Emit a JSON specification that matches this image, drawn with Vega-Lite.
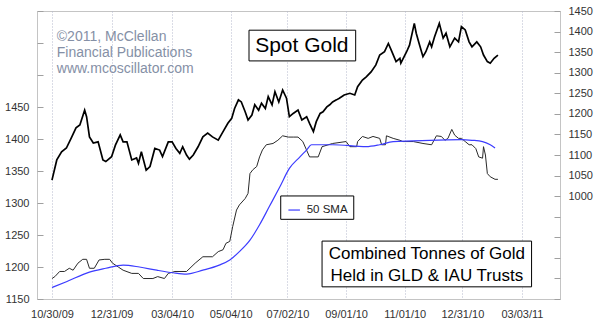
{
  "$schema": "https://vega.github.io/schema/vega-lite/v6.json",
  "width": 523,
  "height": 288,
  "autosize": {"type": "none"},
  "padding": {"left": 37, "top": 11, "right": 40, "bottom": 25},
  "background": "white",
  "config": {
    "view": {"stroke": "#c4c4c4", "strokeWidth": 1, "fill": "white"},
    "font": "Liberation Sans",
    "axis": {"labelFont": "Liberation Sans", "labelFontSize": 11, "labelColor": "#333333", "domain": false}
  },
  "datasets": {
    "gold": [
      {"date": "2009-10-30", "price": 1039}, {"date": "2009-11-04", "price": 1088}, {"date": "2009-11-09", "price": 1108},
      {"date": "2009-11-14", "price": 1117}, {"date": "2009-11-19", "price": 1141}, {"date": "2009-11-24", "price": 1166},
      {"date": "2009-11-28", "price": 1173}, {"date": "2009-12-03", "price": 1209}, {"date": "2009-12-05", "price": 1193},
      {"date": "2009-12-08", "price": 1144}, {"date": "2009-12-12", "price": 1129}, {"date": "2009-12-17", "price": 1132},
      {"date": "2009-12-22", "price": 1088}, {"date": "2009-12-25", "price": 1084}, {"date": "2009-12-31", "price": 1096},
      {"date": "2010-01-04", "price": 1124}, {"date": "2010-01-09", "price": 1149}, {"date": "2010-01-12", "price": 1132},
      {"date": "2010-01-16", "price": 1132}, {"date": "2010-01-21", "price": 1088}, {"date": "2010-01-26", "price": 1093},
      {"date": "2010-01-28", "price": 1080}, {"date": "2010-01-31", "price": 1108}, {"date": "2010-02-05", "price": 1063},
      {"date": "2010-02-09", "price": 1072}, {"date": "2010-02-14", "price": 1116}, {"date": "2010-02-19", "price": 1112},
      {"date": "2010-02-22", "price": 1096}, {"date": "2010-02-28", "price": 1132}, {"date": "2010-03-04", "price": 1132},
      {"date": "2010-03-08", "price": 1116}, {"date": "2010-03-12", "price": 1104}, {"date": "2010-03-15", "price": 1120},
      {"date": "2010-03-19", "price": 1100}, {"date": "2010-03-22", "price": 1090}, {"date": "2010-03-26", "price": 1100},
      {"date": "2010-03-31", "price": 1120}, {"date": "2010-04-05", "price": 1144}, {"date": "2010-04-10", "price": 1153},
      {"date": "2010-04-15", "price": 1144}, {"date": "2010-04-21", "price": 1136}, {"date": "2010-04-26", "price": 1157},
      {"date": "2010-05-01", "price": 1177}, {"date": "2010-05-05", "price": 1189}, {"date": "2010-05-08", "price": 1213},
      {"date": "2010-05-12", "price": 1234}, {"date": "2010-05-15", "price": 1229}, {"date": "2010-05-19", "price": 1205},
      {"date": "2010-05-22", "price": 1185}, {"date": "2010-05-26", "price": 1197}, {"date": "2010-05-29", "price": 1222},
      {"date": "2010-06-02", "price": 1209}, {"date": "2010-06-05", "price": 1226}, {"date": "2010-06-09", "price": 1213},
      {"date": "2010-06-12", "price": 1242}, {"date": "2010-06-16", "price": 1222}, {"date": "2010-06-19", "price": 1254},
      {"date": "2010-06-23", "price": 1229}, {"date": "2010-06-27", "price": 1258}, {"date": "2010-07-01", "price": 1238},
      {"date": "2010-07-04", "price": 1193}, {"date": "2010-07-08", "price": 1201}, {"date": "2010-07-13", "price": 1209},
      {"date": "2010-07-17", "price": 1185}, {"date": "2010-07-22", "price": 1193}, {"date": "2010-07-25", "price": 1177},
      {"date": "2010-07-29", "price": 1157}, {"date": "2010-08-01", "price": 1181}, {"date": "2010-08-05", "price": 1201},
      {"date": "2010-08-08", "price": 1205}, {"date": "2010-08-12", "price": 1217}, {"date": "2010-08-15", "price": 1222},
      {"date": "2010-08-18", "price": 1229}, {"date": "2010-08-22", "price": 1234}, {"date": "2010-08-25", "price": 1238},
      {"date": "2010-08-30", "price": 1246}, {"date": "2010-09-05", "price": 1250}, {"date": "2010-09-10", "price": 1246},
      {"date": "2010-09-13", "price": 1266}, {"date": "2010-09-18", "price": 1282}, {"date": "2010-09-22", "price": 1290},
      {"date": "2010-09-27", "price": 1302}, {"date": "2010-10-02", "price": 1319}, {"date": "2010-10-06", "price": 1343},
      {"date": "2010-10-11", "price": 1351}, {"date": "2010-10-15", "price": 1371}, {"date": "2010-10-18", "price": 1355},
      {"date": "2010-10-23", "price": 1327}, {"date": "2010-10-27", "price": 1335}, {"date": "2010-10-28", "price": 1323},
      {"date": "2010-11-03", "price": 1351}, {"date": "2010-11-06", "price": 1367}, {"date": "2010-11-11", "price": 1420},
      {"date": "2010-11-13", "price": 1396}, {"date": "2010-11-16", "price": 1371}, {"date": "2010-11-20", "price": 1339},
      {"date": "2010-11-23", "price": 1351}, {"date": "2010-11-27", "price": 1375}, {"date": "2010-11-29", "price": 1363},
      {"date": "2010-12-02", "price": 1387}, {"date": "2010-12-07", "price": 1420}, {"date": "2010-12-11", "price": 1384},
      {"date": "2010-12-14", "price": 1396}, {"date": "2010-12-18", "price": 1363}, {"date": "2010-12-23", "price": 1384},
      {"date": "2010-12-27", "price": 1375}, {"date": "2010-12-30", "price": 1412}, {"date": "2011-01-03", "price": 1404},
      {"date": "2011-01-07", "price": 1375}, {"date": "2011-01-10", "price": 1363}, {"date": "2011-01-15", "price": 1375},
      {"date": "2011-01-19", "price": 1363}, {"date": "2011-01-22", "price": 1343}, {"date": "2011-01-26", "price": 1327},
      {"date": "2011-01-29", "price": 1323}, {"date": "2011-02-02", "price": 1335}, {"date": "2011-02-06", "price": 1343}
    ],
    "gld": [
      {"date": "2009-10-30", "v": 1182}, {"date": "2009-11-02", "v": 1185}, {"date": "2009-11-07", "v": 1193},
      {"date": "2009-11-12", "v": 1193}, {"date": "2009-11-17", "v": 1198}, {"date": "2009-11-21", "v": 1195},
      {"date": "2009-11-26", "v": 1206}, {"date": "2009-12-01", "v": 1212}, {"date": "2009-12-05", "v": 1212},
      {"date": "2009-12-08", "v": 1198}, {"date": "2009-12-13", "v": 1198}, {"date": "2009-12-18", "v": 1211},
      {"date": "2009-12-24", "v": 1212}, {"date": "2009-12-29", "v": 1212}, {"date": "2010-01-01", "v": 1206},
      {"date": "2010-01-07", "v": 1200}, {"date": "2010-01-12", "v": 1195}, {"date": "2010-01-21", "v": 1190},
      {"date": "2010-01-28", "v": 1190}, {"date": "2010-02-02", "v": 1182}, {"date": "2010-02-12", "v": 1182},
      {"date": "2010-02-17", "v": 1185}, {"date": "2010-02-24", "v": 1182}, {"date": "2010-02-28", "v": 1190},
      {"date": "2010-03-07", "v": 1193}, {"date": "2010-03-19", "v": 1193}, {"date": "2010-03-28", "v": 1206},
      {"date": "2010-04-05", "v": 1216}, {"date": "2010-04-15", "v": 1216}, {"date": "2010-04-21", "v": 1224},
      {"date": "2010-04-26", "v": 1227}, {"date": "2010-04-29", "v": 1237}, {"date": "2010-05-03", "v": 1240},
      {"date": "2010-05-06", "v": 1263}, {"date": "2010-05-10", "v": 1289}, {"date": "2010-05-13", "v": 1297},
      {"date": "2010-05-19", "v": 1307}, {"date": "2010-05-22", "v": 1315}, {"date": "2010-05-24", "v": 1346},
      {"date": "2010-05-27", "v": 1352}, {"date": "2010-05-31", "v": 1357}, {"date": "2010-06-03", "v": 1372},
      {"date": "2010-06-06", "v": 1383}, {"date": "2010-06-10", "v": 1391}, {"date": "2010-06-17", "v": 1393},
      {"date": "2010-06-22", "v": 1398}, {"date": "2010-06-27", "v": 1405}, {"date": "2010-07-03", "v": 1403},
      {"date": "2010-07-08", "v": 1403}, {"date": "2010-07-13", "v": 1403}, {"date": "2010-07-18", "v": 1396},
      {"date": "2010-07-25", "v": 1372}, {"date": "2010-08-03", "v": 1372}, {"date": "2010-08-07", "v": 1388},
      {"date": "2010-08-18", "v": 1393}, {"date": "2010-09-01", "v": 1396}, {"date": "2010-09-05", "v": 1388},
      {"date": "2010-09-12", "v": 1388}, {"date": "2010-09-13", "v": 1396}, {"date": "2010-09-18", "v": 1404},
      {"date": "2010-09-24", "v": 1401}, {"date": "2010-09-29", "v": 1404}, {"date": "2010-10-06", "v": 1401},
      {"date": "2010-10-08", "v": 1391}, {"date": "2010-10-12", "v": 1391}, {"date": "2010-10-13", "v": 1405},
      {"date": "2010-10-20", "v": 1401}, {"date": "2010-10-27", "v": 1398}, {"date": "2010-10-30", "v": 1396},
      {"date": "2010-11-10", "v": 1396}, {"date": "2010-11-20", "v": 1393}, {"date": "2010-11-29", "v": 1391},
      {"date": "2010-12-04", "v": 1405}, {"date": "2010-12-09", "v": 1404}, {"date": "2010-12-13", "v": 1398},
      {"date": "2010-12-16", "v": 1401}, {"date": "2010-12-20", "v": 1415}, {"date": "2010-12-23", "v": 1406},
      {"date": "2010-12-27", "v": 1401}, {"date": "2010-12-30", "v": 1401}, {"date": "2011-01-03", "v": 1396},
      {"date": "2011-01-07", "v": 1391}, {"date": "2011-01-10", "v": 1391}, {"date": "2011-01-14", "v": 1385},
      {"date": "2011-01-17", "v": 1372}, {"date": "2011-01-21", "v": 1370}, {"date": "2011-01-22", "v": 1388},
      {"date": "2011-01-24", "v": 1375}, {"date": "2011-01-26", "v": 1346}, {"date": "2011-01-29", "v": 1341},
      {"date": "2011-02-03", "v": 1337}, {"date": "2011-02-06", "v": 1337}
    ],
    "sma": [
      {"date": "2009-10-30", "v": 1168}, {"date": "2009-11-14", "v": 1177}, {"date": "2009-12-08", "v": 1192},
      {"date": "2009-12-25", "v": 1198}, {"date": "2010-01-12", "v": 1203}, {"date": "2010-01-29", "v": 1200},
      {"date": "2010-02-16", "v": 1195}, {"date": "2010-03-05", "v": 1191}, {"date": "2010-03-19", "v": 1189},
      {"date": "2010-04-05", "v": 1195}, {"date": "2010-04-22", "v": 1203}, {"date": "2010-05-03", "v": 1211},
      {"date": "2010-05-13", "v": 1224}, {"date": "2010-05-24", "v": 1242}, {"date": "2010-06-03", "v": 1266},
      {"date": "2010-06-13", "v": 1294}, {"date": "2010-06-24", "v": 1325}, {"date": "2010-07-04", "v": 1354},
      {"date": "2010-07-15", "v": 1372}, {"date": "2010-07-22", "v": 1383}, {"date": "2010-07-27", "v": 1391},
      {"date": "2010-08-18", "v": 1391}, {"date": "2010-09-22", "v": 1388}, {"date": "2010-10-06", "v": 1391},
      {"date": "2010-10-20", "v": 1396}, {"date": "2010-11-10", "v": 1397}, {"date": "2010-11-27", "v": 1398},
      {"date": "2010-12-30", "v": 1399}, {"date": "2011-01-10", "v": 1398}, {"date": "2011-01-21", "v": 1396},
      {"date": "2011-01-29", "v": 1391}, {"date": "2011-02-03", "v": 1386}
    ],
    "copyright": [
      {"date": "2009-11-04", "v": 1559, "label": "©2011, McClellan"},
      {"date": "2009-11-04", "v": 1534, "label": "Financial Publications"},
      {"date": "2009-11-04", "v": 1509, "label": "www.mcoscillator.com"}
    ],
    "boxes": [
      {"date": "2010-05-23", "date2": "2010-09-11", "v": 1570, "v2": 1522},
      {"date": "2010-08-07", "date2": "2011-03-13", "v": 1240.5, "v2": 1169},
      {"date": "2010-06-25", "date2": "2010-09-09", "v": 1311, "v2": 1274.5}
    ],
    "bigtitle": [
      {"date": "2010-07-17", "v": 1546, "label": "Spot Gold"}
    ],
    "subtitle": [
      {"date": "2010-11-24", "v": 1220, "label": "Combined Tonnes of Gold"},
      {"date": "2010-11-24", "v": 1186, "label": "Held in GLD & IAU Trusts"}
    ],
    "legendline": [
      {"date": "2010-07-03", "date2": "2010-07-15", "v": 1289}
    ],
    "legendtext": [
      {"date": "2010-07-22", "v": 1289, "label": "50 SMA"}
    ]
  },
  "encoding": {
    "x": {
      "field": "date",
      "type": "temporal",
      "scale": {"type": "utc", "domain": [{"year": 2009, "month": 10, "date": 14, "hours": 10, "utc": true}, {"year": 2011, "month": 4, "date": 11, "hours": 14, "utc": true}]},
      "axis": {
        "values": [
          {"year": 2009, "month": 10, "date": 30, "utc": true},
          {"year": 2009, "month": 12, "date": 31, "utc": true},
          {"year": 2010, "month": 3, "date": 4, "utc": true},
          {"year": 2010, "month": 5, "date": 4, "utc": true},
          {"year": 2010, "month": 7, "date": 2, "utc": true},
          {"year": 2010, "month": 9, "date": 1, "utc": true},
          {"year": 2010, "month": 11, "date": 1, "utc": true},
          {"year": 2010, "month": 12, "date": 31, "utc": true},
          {"year": 2011, "month": 3, "date": 3, "utc": true}
        ],
        "labelExpr": "utcFormat(datum.value, '%m/%d/%y')",
        "title": null,
        "ticks": false,
        "grid": true,
        "gridColor": "#b4b8cc",
        "gridDash": [1, 2],
        "gridWidth": 1,
        "labelPadding": 9,
        "labelFlush": false,
        "labelOverlap": false
      }
    }
  },
  "layer": [
    {
      "encoding": {
        "y": {
          "field": "v",
          "type": "quantitative",
          "scale": {"domain": [1150, 1600], "nice": false, "zero": false},
          "axis": {
            "orient": "left",
            "title": null,
            "values": [1150, 1200, 1250, 1300, 1350, 1400, 1450, 1500, 1550, 1600],
            "format": "d",
            "labelExpr": "datum.value <= 1450 ? datum.label : ''",
            "tickSize": -6,
            "tickColor": "#a0a0a0",
            "labelPadding": 14,
            "grid": false
          }
        }
      },
      "layer": [
        {
          "data": {"name": "gld"},
          "mark": {"type": "line", "stroke": "#2a2a2a", "strokeWidth": 1, "interpolate": "linear"}
        },
        {
          "data": {"name": "sma"},
          "mark": {"type": "line", "stroke": "#3c3cff", "strokeWidth": 1.2, "interpolate": "monotone"}
        },
        {
          "data": {"name": "copyright"},
          "mark": {"type": "text", "align": "left", "baseline": "middle", "fontSize": 14, "color": "#8590a6", "font": "Liberation Sans"},
          "encoding": {"text": {"field": "label"}}
        },
        {
          "data": {"name": "boxes"},
          "mark": {"type": "rect", "fill": "white", "stroke": "black", "strokeWidth": 1},
          "encoding": {"x2": {"field": "date2"}, "y2": {"field": "v2"}}
        },
        {
          "data": {"name": "bigtitle"},
          "mark": {"type": "text", "align": "center", "baseline": "middle", "fontSize": 21, "color": "black", "font": "Liberation Sans"},
          "encoding": {"text": {"field": "label"}}
        },
        {
          "data": {"name": "subtitle"},
          "mark": {"type": "text", "align": "center", "baseline": "middle", "fontSize": 17, "color": "black", "font": "Liberation Sans"},
          "encoding": {"text": {"field": "label"}}
        },
        {
          "data": {"name": "legendline"},
          "mark": {"type": "rule", "stroke": "#3c3cff", "strokeWidth": 1.2},
          "encoding": {"x2": {"field": "date2"}}
        },
        {
          "data": {"name": "legendtext"},
          "mark": {"type": "text", "align": "left", "baseline": "middle", "fontSize": 11.5, "color": "#222222", "font": "Liberation Sans"},
          "encoding": {"text": {"field": "label"}}
        }
      ]
    },
    {
      "data": {"name": "gold"},
      "mark": {"type": "line", "stroke": "black", "strokeWidth": 1.7},
      "encoding": {
        "y": {
          "field": "price",
          "type": "quantitative",
          "scale": {"domain": [750, 1450], "nice": false, "zero": false},
          "axis": {
            "orient": "right",
            "title": null,
            "values": [750, 800, 850, 900, 950, 1000, 1050, 1100, 1150, 1200, 1250, 1300, 1350, 1400, 1450],
            "format": "d",
            "labelExpr": "datum.value >= 1000 ? datum.label : ''",
            "tickSize": -6,
            "tickColor": "#a0a0a0",
            "labelPadding": 14,
            "grid": false
          }
        }
      }
    }
  ],
  "resolve": {"scale": {"y": "independent"}}
}
